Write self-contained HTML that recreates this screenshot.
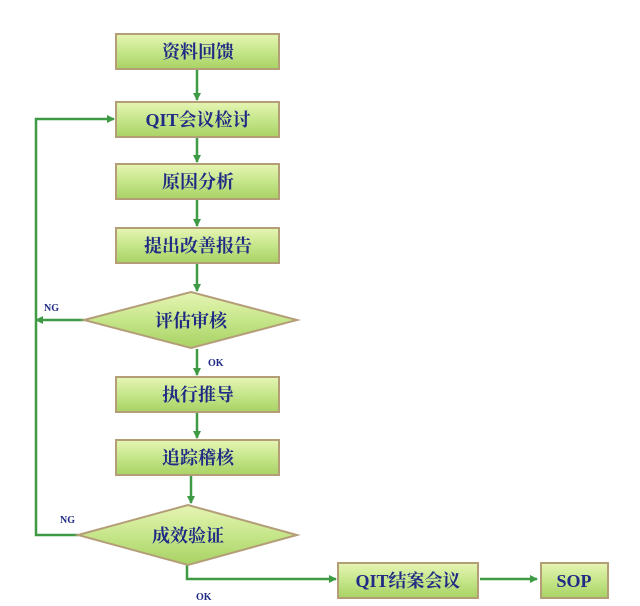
<!DOCTYPE html>
<html><head><meta charset="utf-8"><style>
body{margin:0;background:#fff;width:640px;height:601px;overflow:hidden}
</style></head><body>
<svg width="640" height="601" xmlns="http://www.w3.org/2000/svg" font-family="'Liberation Serif','Noto Serif CJK SC',serif">
<defs>
<linearGradient id="g" x1="0" y1="0" x2="0" y2="1">
<stop offset="0" stop-color="#e6f5b4"/><stop offset="0.5" stop-color="#c6e68a"/><stop offset="1" stop-color="#a8d264"/></linearGradient>
<marker id="a" markerWidth="8" markerHeight="8" refX="7" refY="4" orient="auto" markerUnits="userSpaceOnUse"><path d="M0,0 L8,4 L0,8 z" fill="#3f9a45"/></marker>
</defs>
<g stroke="#3f9a45" stroke-width="2.5" fill="none" marker-end="url(#a)">
<line x1="197" y1="70" x2="197" y2="100"/>
<line x1="197" y1="138" x2="197" y2="162"/>
<line x1="197" y1="200" x2="197" y2="226"/>
<line x1="197" y1="264" x2="197" y2="291"/>
<line x1="197" y1="349" x2="197" y2="375"/>
<line x1="197" y1="413" x2="197" y2="438"/>
<line x1="191" y1="476" x2="191" y2="503"/>
<polyline points="84,320 36,320"/>
<polyline points="78,535 36,535 36,119 114,119"/>
<polyline points="187,565 187,579 336,579"/>
<line x1="480" y1="579" x2="537" y2="579"/>
</g>
<g fill="url(#g)" stroke="#b49e78" stroke-width="2">
<rect x="116" y="34" width="163" height="35"/>
<rect x="116" y="102" width="163" height="35"/>
<rect x="116" y="164" width="163" height="35"/>
<rect x="116" y="228" width="163" height="35"/>
<polygon points="84,320 191,292 297,320 191,348"/>
<rect x="116" y="377" width="163" height="35"/>
<rect x="116" y="440" width="163" height="35"/>
<polygon points="78,535 188,505 297,535 188,565"/>
<rect x="338" y="563" width="140" height="35"/>
<rect x="541" y="563" width="67" height="35"/>
</g>
<g fill="#1f2a85" font-weight="bold" font-size="18" text-anchor="middle">
<text x="198" y="58">资料回馈</text>
<text x="198" y="126">QIT会议检讨</text>
<text x="198" y="188">原因分析</text>
<text x="198" y="252">提出改善报告</text>
<text x="191" y="327">评估审核</text>
<text x="198" y="401">执行推导</text>
<text x="198" y="464">追踪稽核</text>
<text x="188" y="542">成效验证</text>
<text x="408" y="587">QIT结案会议</text>
<text x="574" y="587">SOP</text>
</g>
<g fill="#1f2a85" font-weight="bold" font-size="10">
<text x="44" y="311">NG</text>
<text x="208" y="366">OK</text>
<text x="60" y="523">NG</text>
<text x="196" y="600">OK</text>
</g>
</svg>
</body></html>
